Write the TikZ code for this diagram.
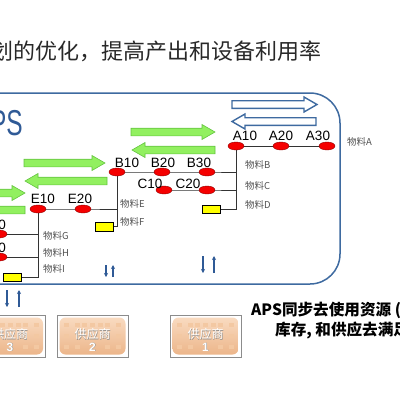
\documentclass[tikz,border=0pt]{standalone}
\usepackage{fontspec}
\setmainfont{Liberation Sans}
\newfontfamily\cjk{Noto Sans CJK SC}
\usetikzlibrary{shapes.geometric,arrows.meta,backgrounds}
\definecolor{frameblue}{RGB}{62,106,160}
\definecolor{textblue}{RGB}{47,90,150}
\definecolor{grfill}{RGB}{146,240,96}
\definecolor{grline}{RGB}{100,196,64}
\definecolor{redfill}{RGB}{245,0,0}
\definecolor{darkred}{RGB}{140,0,0}
\definecolor{ylw}{RGB}{255,255,0}
\definecolor{orng}{RGB}{236,182,138}
\definecolor{orngl}{RGB}{249,218,192}
\definecolor{orngsq}{RGB}{243,200,162}
\definecolor{graytext}{RGB}{80,80,80}
\definecolor{titlegray}{RGB}{40,40,40}
\newcommand\arrR[4]{\draw[#4] (#1,#3-3.8) -- (#2-13,#3-3.8) -- (#2-13,#3-7.5) -- (#2,#3) -- (#2-13,#3+7.5) -- (#2-13,#3+3.8) -- (#1,#3+3.8) -- cycle;}
\newcommand\arrL[4]{\draw[#4] (#1,#3) -- (#1+13,#3-7.5) -- (#1+13,#3-3.8) -- (#2,#3-3.8) -- (#2,#3+3.8) -- (#1+13,#3+3.8) -- (#1+13,#3+7.5) -- cycle;}
\newcommand\supplier[3]{%
  \node[suppout] (#3) at (#1,336) {};
  \node[suppin, shading=axis, top color=orngl, bottom color=orng] (#3in) at (#1,336) {};
  \foreach \dx in {-26,-15,15,26}{\foreach \dy in {-11,0,11}{\fill[orngsq] (#1+\dx-2.5,336+\dy-2) rectangle (#1+\dx+2.5,336+\dy+2);}}
  \foreach \dx in {-8,0,8}{\fill[orngsq] (#1+\dx-2.5,325-2) rectangle (#1+\dx+2.5,325+2);}
  \node[supptext, text=black!45] at (#1+0.5,334.5) {\cjk 供应商};
  \node[supptext, text=white] at (#1,334) {\cjk 供应商};
  \node[supptext, font=\fontsize{12}{12}\selectfont\bfseries, text=black!45] at (#1+0.5,347.5) {#2};
  \node[supptext, font=\fontsize{12}{12}\selectfont\bfseries, text=white] at (#1,347) {#2};
}
\begin{document}
\begin{tikzpicture}[x=1pt,y=-1pt,
  frame/.style={draw=frameblue, line width=1.5pt},
  grarrow/.style={fill=grfill, draw=grline, line width=0.6pt},
  blarrow/.style={fill=white, draw=frameblue, line width=1.4pt},
  redell/.style={ellipse, fill=redfill, draw=darkred, line width=0.4pt, minimum width=16pt, minimum height=8pt, inner sep=0pt},
  ybox/.style={rectangle, fill=ylw, draw=black, line width=0.6pt, minimum width=18pt, minimum height=8pt, inner sep=0pt},
  conn/.style={draw=black!80, line width=0.8pt},
  code/.style={inner sep=0pt, font=\fontsize{13.5}{14}\selectfont},
  mat/.style={inner sep=0pt, anchor=west, text=graytext, font=\cjk\fontsize{9.5}{10}\selectfont},
  updown/.style={draw=textblue, line width=1.1pt, -{Stealth[length=4pt,width=4pt]}},
  suppout/.style={rectangle, draw=black!45, fill=white, line width=0.6pt, minimum width=71pt, minimum height=42pt, inner sep=0pt},
  suppin/.style={rectangle, rounded corners=6pt, minimum width=66pt, minimum height=37pt, inner sep=0pt},
  supptext/.style={inner sep=0pt, font=\cjk\fontsize{12}{12}\selectfont}
]
\useasboundingbox (0,0) rectangle (400,400);

% title
\node[anchor=east, inner sep=0pt, text=titlegray, font=\cjk\fontsize{22}{22}\selectfont] (title) at (322,51) {划的优化，提高产出和设备利用率};

% big frame
\draw[frame, rounded corners=30pt] (-60,93) -- (340,93) -- (340,284) -- (-60,284);
\node[anchor=base east, inner sep=0pt, text=textblue, font=\fontsize{36}{36}\selectfont] (aps) at (23,135) {\scalebox{0.68}[1]{APS}};

% blue outline arrows
\arrR{232}{317}{104.5}{blarrow}
\arrL{232}{316}{121.5}{blarrow}

% green arrows
\arrR{131}{215}{132}{grarrow}
\arrL{132}{215}{150}{grarrow}
\arrR{24}{105}{163}{grarrow}
\arrL{25}{107}{181}{grarrow}
\arrR{-60}{25}{193}{grarrow}
\arrL{-60}{25}{210}{grarrow}

% ellipses and boxes
\node[redell] (a10) at (236,146) {};
\node[redell] (a20) at (281,146) {};
\node[redell] (a30) at (327,146) {};
\node[redell] (b10) at (117,172) {};
\node[redell] (b20) at (162,172) {};
\node[redell] (b30) at (207,172) {};
\node[redell] (c10) at (164,190) {};
\node[redell] (c20) at (207,190) {};
\node[ybox] (d) at (211,209) {};
\node[redell] (e10) at (38,209) {};
\node[redell] (e20) at (83,209) {};
\node[ybox, minimum height=9pt] (f) at (104,226.5) {};
\node[redell] (g) at (-1,234) {};
\node[redell] (h) at (-1,257) {};
\node[ybox] (i) at (12,277) {};

\begin{scope}[on background layer]
\draw[conn] (a10.center) -- (a30.center);
\draw[conn] (a10.center) |- (d.east);
\draw[conn] (b10.center) -- (b30.center) -- (b30.center -| a10.center);
\draw[conn] (c10.center) -- (c20.center) -- (c20.center -| a10.center);
\draw[conn] (b10.center) |- (f.east);
\draw[conn] (e10.center) -- (e20.center) -- (e20.center -| b10.center);
\draw[conn] (e10.center) |- (i.east);
\draw[conn] (g.center) -- (g.center -| e10.center);
\draw[conn] (h.center) -- (h.center -| e10.center);
\end{scope}

% codes
\node[code] (ta10) at (245,136) {A10};
\node[code] (ta20) at (281,136) {A20};
\node[code] (ta30) at (318,136) {A30};
\node[code] (tb10) at (127,163) {B10};
\node[code] (tb20) at (163,163) {B20};
\node[code] (tb30) at (199,163) {B30};
\node[code] (tc10) at (150,184) {C10};
\node[code] (tc20) at (188,184) {C20};
\node[code] (te10) at (43,199) {E10};
\node[code] (te20) at (80,199) {E20};
\node[code, anchor=east] (tg10) at (6,225) {G10};
\node[code, anchor=east] (th10) at (6,248) {H10};

% material labels
\node[mat] (ma) at (347,142) {物料A};
\node[mat] (mb) at (245,165) {物料B};
\node[mat] (mc) at (245,186) {物料C};
\node[mat] (md) at (245,205) {物料D};
\node[mat] (me) at (120,204) {物料E};
\node[mat] (mf) at (120,222) {物料F};
\node[mat] (mg) at (43,236) {物料G};
\node[mat] (mh) at (43,253) {物料H};
\node[mat] (mi) at (43,269) {物料I};

% small up/down arrows
\coordinate (u1t) at (106,265); \coordinate (u1b) at (106,277);
\coordinate (u2t) at (113,265); \coordinate (u2b) at (113,277);
\draw[updown] (u1t) -- (u1b);
\draw[updown] (u2b) -- (u2t);
\coordinate (v1t) at (203,256); \coordinate (v1b) at (203,273);
\coordinate (v2t) at (214,256); \coordinate (v2b) at (214,273);
\draw[updown] (v1t) -- (v1b);
\draw[updown] (v2b) -- (v2t);
\coordinate (w1t) at (7,290); \coordinate (w1b) at (7,307);
\coordinate (w2t) at (19,290); \coordinate (w2b) at (19,307);
\draw[updown] (w1t) -- (w1b);
\draw[updown] (w2b) -- (w2t);

% suppliers
\supplier{10}{3}{s3}
\supplier{92.5}{2}{s2}
\supplier{205.5}{1}{s1}

% right text
\node[anchor=west, inner sep=0pt, font=\cjk\bfseries\fontsize{15.6}{16}\selectfont] (t1) at (251,310) {APS同步去使用资源 (};
\node[anchor=west, inner sep=0pt, font=\cjk\bfseries\fontsize{15.6}{16}\selectfont] (t2) at (275,330) {库存, 和供应去满足};
\end{tikzpicture}
\end{document}
